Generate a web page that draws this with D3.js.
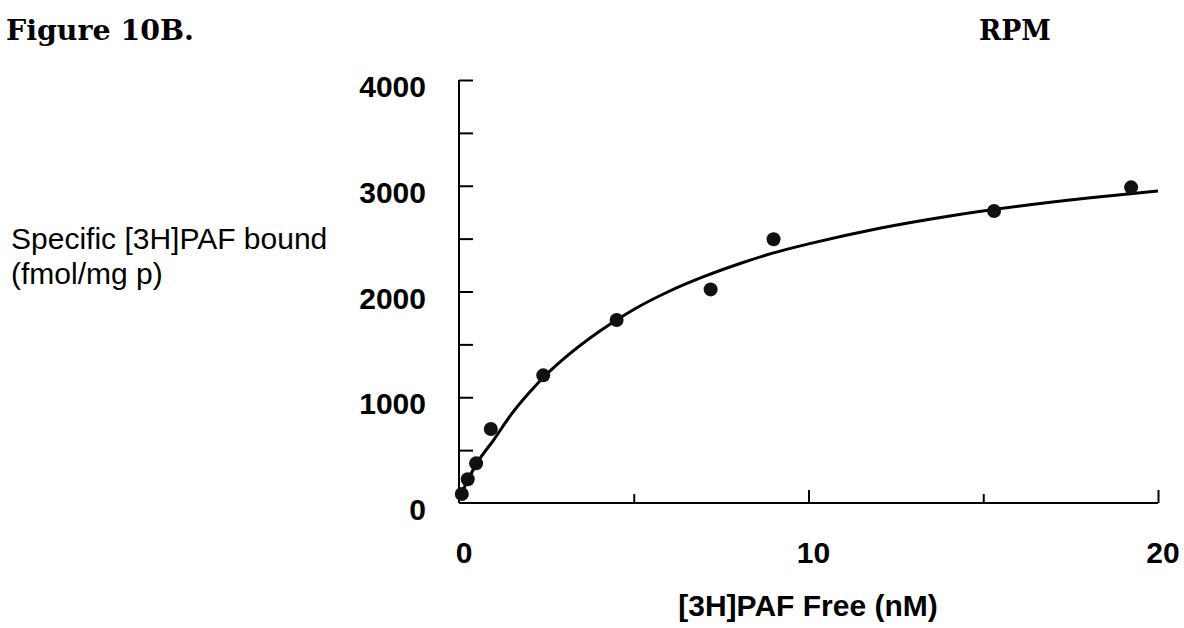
<!DOCTYPE html>
<html>
<head>
<meta charset="utf-8">
<script src="https://cdn.jsdelivr.net/npm/d3@7"></script>
<style>
  html, body { margin: 0; padding: 0; background: #fff; }
  svg { display: block; }
</style>
</head>
<body>
<svg id="chart" width="1184" height="628"></svg>
<script>
// ---- data ----
const pointFree  = [0.08, 0.25, 0.49, 0.91, 2.41, 4.51, 7.2, 9.0, 15.31, 19.23];
const pointBound = [85, 224, 375, 700, 1207, 1730, 2020, 2494, 2761, 2985];

// fitted saturation curve, sampled by eye along the drawn line
const curveFree  = [0.1, 0.25, 0.5, 1.0, 1.5, 2.0, 2.5, 3.0, 4.0, 5.0, 6.0, 7.0, 8.0, 9.0, 10, 12, 14, 16, 18, 20];
const curveBound = [110, 215, 370, 600, 840, 1040, 1215, 1365, 1620, 1830, 2000, 2140, 2260, 2365, 2450, 2596, 2712, 2806, 2884, 2950];

const xTickLabels = [0, 10, 20];
const yTickLabels = [0, 1000, 2000, 3000, 4000];
const xMinorTicks = [5, 15];
const xMajorTicks = [10, 20];
const yMinorTicks = [500, 1000, 1500, 2000, 2500, 3000, 3500, 4000];

const titleText = "Figure 10B.";
const cornerText = "RPM";
const xTitle = "[3H]PAF Free (nM)";
const yTitleLines = ["Specific [3H]PAF bound", "(fmol/mg p)"];

// ---- drawing ----
const svg = d3.select("#chart");
svg.append("rect").attr("width", 1184).attr("height", 628).attr("fill", "#fff");

const x = d3.scaleLinear().domain([0, 20]).range([459, 1158]);
const y = d3.scaleLinear().domain([0, 4000]).range([503, 80]);

const sans = "'Liberation Sans', Arial, Helvetica, sans-serif";
const serif = "'DejaVu Serif', 'Liberation Serif', serif";

// y axis: line + inward ticks
const yAxis = d3.axisRight(y).tickValues(yMinorTicks).tickSize(14).tickFormat("");
const gy = svg.append("g").attr("transform", `translate(${x(0)},0)`).call(yAxis);
gy.select(".domain").attr("d", `M0,${y(4000)}V${y(0)}`).attr("stroke", "#000").attr("stroke-width", 2);
gy.selectAll(".tick line").attr("stroke", "#000").attr("stroke-width", 2);

// x axis: line + upward ticks
const gx = svg.append("g").attr("transform", `translate(0,${y(0)})`);
gx.append("path").attr("d", `M${x(0)},0H${x(20)}`).attr("stroke", "#000").attr("stroke-width", 2).attr("fill", "none");
const xAxisMajor = d3.axisTop(x).tickValues(xMajorTicks).tickSize(13).tickFormat("");
const xAxisMinor = d3.axisTop(x).tickValues(xMinorTicks).tickSize(9).tickFormat("");
const gxa = gx.append("g").call(xAxisMajor);
const gxb = gx.append("g").call(xAxisMinor);
[gxa, gxb].forEach(g => {
  g.select(".domain").remove();
  g.selectAll(".tick line").attr("stroke", "#000").attr("stroke-width", 2);
});

// tick labels
svg.append("g").selectAll("text").data(yTickLabels).join("text")
  .attr("x", 426).attr("y", d => y(d) + 17)
  .attr("text-anchor", "end")
  .attr("font-family", sans).attr("font-weight", "bold").attr("font-size", 30)
  .text(d => d);

svg.append("g").selectAll("text").data(xTickLabels).join("text")
  .attr("x", d => x(d) + 5).attr("y", 563)
  .attr("text-anchor", "middle")
  .attr("font-family", sans).attr("font-weight", "bold").attr("font-size", 30)
  .text(d => d);

// curve
const line = d3.line().x(d => x(d[0])).y(d => y(d[1])).curve(d3.curveMonotoneX);
svg.append("path")
  .datum(d3.zip(curveFree, curveBound))
  .attr("d", line).attr("fill", "none").attr("stroke", "#000").attr("stroke-width", 3);

// points
svg.append("g").selectAll("circle").data(d3.zip(pointFree, pointBound)).join("circle")
  .attr("cx", d => x(d[0])).attr("cy", d => y(d[1])).attr("r", 7)
  .attr("fill", "#111");

// titles
svg.append("text").attr("x", 6).attr("y", 40)
  .attr("font-family", serif).attr("font-weight", "bold").attr("font-size", 28)
  .attr("textLength", 188).attr("lengthAdjust", "spacingAndGlyphs")
  .text(titleText);
svg.append("text").attr("x", 979).attr("y", 40)
  .attr("font-family", serif).attr("font-weight", "bold").attr("font-size", 28)
  .attr("textLength", 72).attr("lengthAdjust", "spacingAndGlyphs")
  .text(cornerText);

svg.append("text").attr("x", 808).attr("y", 616)
  .attr("text-anchor", "middle")
  .attr("font-family", sans).attr("font-weight", "bold").attr("font-size", 30)
  .text(xTitle);

svg.append("g").selectAll("text").data(yTitleLines).join("text")
  .attr("x", 11).attr("y", (d, i) => 249 + i * 35)
  .attr("font-family", sans).attr("font-size", 30)
  .text(d => d);
</script>
</body>
</html>
